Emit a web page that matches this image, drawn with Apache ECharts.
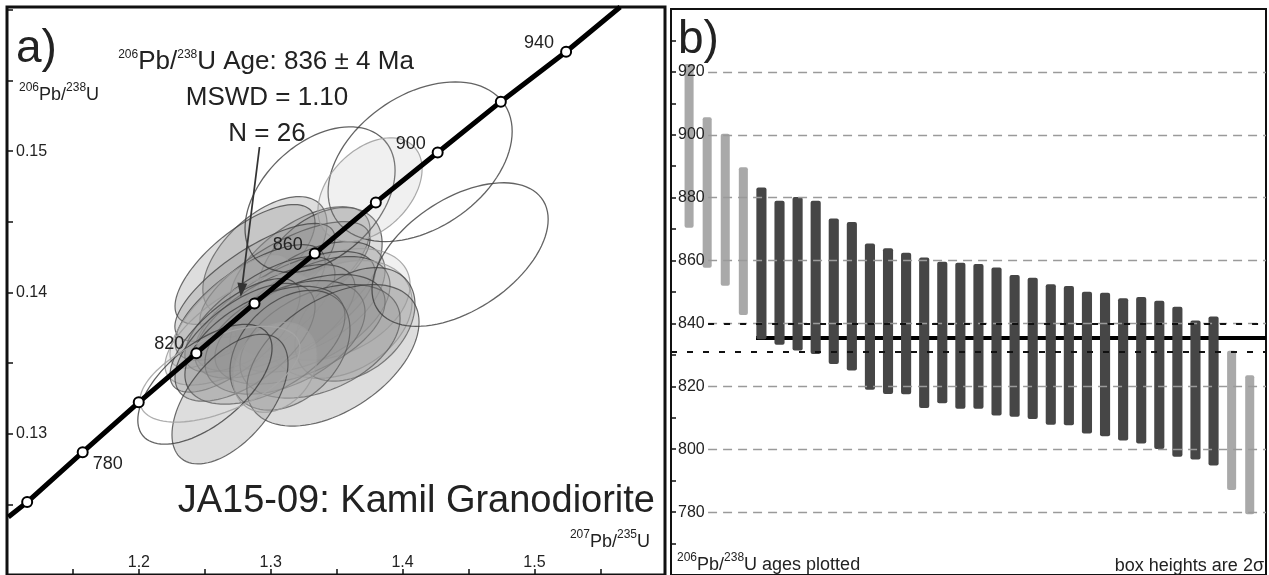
<!DOCTYPE html>
<html>
<head>
<meta charset="utf-8">
<script src="https://cdn.jsdelivr.net/npm/echarts@6/dist/echarts.min.js"></script>
<style>
html, body { margin: 0; padding: 0; background: #fff; }
#chart { width: 1269px; height: 575px; }
</style>
</head>
<body>
<div id="chart"></div>
<script>
// a) concordia reference points, ages in Ma
var concAges = [760, 780, 800, 820, 840, 860, 880, 900, 920, 940];
var conc207 = [1.1153, 1.1574, 1.1999, 1.2436, 1.2877, 1.3334, 1.3797, 1.4266, 1.4745, 1.5240];
var conc206 = [0.12516, 0.12869, 0.13222, 0.13570, 0.13922, 0.14275, 0.14637, 0.14990, 0.15350, 0.15703];
var concLabelAges = [780, 820, 860, 900, 940];
// where the concordia leaves the frame
var concEnd207 = [1.101, 1.565];
var concEnd206 = [0.1241, 0.1602];

// a) error ellipses: centre, half width / half height, correlation
var ellX = [1.2956, 1.3222, 1.2805, 1.3374, 1.3108, 1.2880, 1.3298, 1.2843, 1.3488, 1.3108, 1.2691, 1.3298, 1.2918, 1.3526, 1.3032, 1.3639, 1.2767, 1.3222, 1.2729, 1.3108, 1.3374, 1.2805, 1.2956, 1.3146, 1.3472, 1.3032, 1.2691, 1.4133, 1.3374, 1.3753, 1.4436, 1.2501, 1.2615];
var ellY = [0.14254, 0.14198, 0.14198, 0.14177, 0.14092, 0.14071, 0.13951, 0.13929, 0.13915, 0.13866, 0.13866, 0.13845, 0.13845, 0.13809, 0.13795, 0.13774, 0.13739, 0.13739, 0.13696, 0.13682, 0.13654, 0.13647, 0.13626, 0.13591, 0.13555, 0.13470, 0.13245, 0.14925, 0.14657, 0.14727, 0.14268, 0.13350, 0.13421];
var ellSX = [0.0471, 0.0531, 0.0531, 0.0471, 0.0645, 0.0607, 0.0569, 0.0569, 0.0569, 0.0683, 0.0455, 0.0607, 0.0569, 0.0546, 0.0607, 0.0455, 0.0569, 0.0645, 0.0493, 0.0607, 0.0607, 0.0531, 0.0607, 0.0455, 0.0653, 0.0319, 0.0440, 0.0698, 0.0569, 0.0395, 0.0668, 0.0509, 0.0607];
var ellSY = [0.00424, 0.00409, 0.00424, 0.00424, 0.00409, 0.00417, 0.00409, 0.00409, 0.00395, 0.00424, 0.00402, 0.00409, 0.00409, 0.00417, 0.00402, 0.00402, 0.00395, 0.00388, 0.00402, 0.00402, 0.00402, 0.00417, 0.00417, 0.00424, 0.00501, 0.00318, 0.00459, 0.00565, 0.00515, 0.00367, 0.00508, 0.00424, 0.00339];
var ellRho = [0.55, 0.60, 0.70, 0.40, 0.70, 0.75, 0.50, 0.70, 0.35, 0.65, 0.75, 0.50, 0.70, 0.30, 0.60, 0.35, 0.65, 0.50, 0.70, 0.45, 0.40, 0.60, 0.50, 0.35, 0.47, 0.25, 0.55, 0.38, 0.40, 0.40, 0.49, 0.60, 0.55];
var ellKind = ['fill', 'fill', 'fill', 'fill', 'fill', 'fill', 'fill', 'fill', 'faint', 'fill',
               'faint', 'fill', 'fill', 'faint', 'fill', 'fill', 'faint', 'fill', 'fill', 'fill',
               'fill', 'fill', 'fill', 'fill', 'fill', 'faint', 'fill', 'open', 'open', 'faint',
               'open', 'open', 'openFaint'];

// b) 206Pb/238U ages, top and bottom of each 2 sigma box (Ma)
var boxTop = [922.5, 905.6, 900.3, 889.7, 883.2, 879.0, 880.2, 879.0, 873.4, 872.3, 865.4, 863.9, 862.5, 861.0, 859.6, 859.3, 858.9, 857.8, 855.4, 854.5, 852.5, 851.9, 850.1, 849.8, 848.0, 848.4, 847.2, 845.3, 840.9, 842.2, 831.3, 823.5];
var boxBottom = [870.4, 857.7, 852.0, 842.7, 835.0, 833.2, 831.4, 830.3, 827.1, 825.0, 818.9, 817.6, 817.5, 813.1, 814.6, 812.9, 812.9, 810.7, 810.3, 809.6, 807.8, 807.6, 805.0, 804.1, 802.8, 801.8, 800.1, 797.6, 796.7, 794.8, 787.0, 779.3];
var boxUsed = [0, 0, 0, 0, 1, 1, 1, 1, 1, 1, 1, 1, 1, 1, 1, 1, 1, 1, 1, 1, 1, 1, 1, 1, 1, 1, 1, 1, 1, 1, 0, 0];
var ageTicks = [780, 800, 820, 840, 860, 880, 900, 920];
var meanAge = 835.4;
var meanBand = [831.0, 839.9];

var font = '"Liberation Sans", Arial, sans-serif';
var myChart = echarts.init(document.getElementById('chart'));

var ellStyle = {
    fill: { fill: 'rgba(150,150,150,0.32)', stroke: 'rgba(60,60,60,0.75)', lineWidth: 1.2 },
    faint: { fill: 'rgba(185,185,185,0.22)', stroke: 'rgba(155,155,155,0.85)', lineWidth: 1.2 },
    open: { fill: 'none', stroke: 'rgba(60,60,60,0.8)', lineWidth: 1.3 },
    openFaint: { fill: 'none', stroke: 'rgba(165,165,165,0.9)', lineWidth: 1.3 }
};

function ellipseItem(params, api) {
    var cx = api.value(0), cy = api.value(1), sx = api.value(2), sy = api.value(3), r = api.value(4);
    var k = Math.sqrt(1 - r * r);
    var pts = [];
    for (var i = 0; i < 96; i++) {
        var t = i / 96 * Math.PI * 2;
        pts.push(api.coord([cx + sx * Math.cos(t), cy + sy * (r * Math.cos(t) + k * Math.sin(t))]));
    }
    return { type: 'polygon', shape: { points: pts }, style: ellStyle[ellKind[params.dataIndex]] };
}

function boxItem(params, api) {
    var i = api.value(0);
    var top = api.coord([i, api.value(1)]);
    var bot = api.coord([i, api.value(2)]);
    var used = api.value(3) === 1;
    var w = api.size([1, 0])[0] * (used ? 0.56 : 0.5);
    return {
        type: 'rect',
        shape: { x: top[0] - w / 2, y: top[1], width: w, height: bot[1] - top[1], r: 2 },
        style: { fill: used ? '#464646' : '#a9a9a9' }
    };
}

var ellData = ellX.map(function (x, i) { return [x, ellY[i], ellSX[i], ellSY[i], ellRho[i]]; });
var concLine = [[concEnd207[0], concEnd206[0]]];
concAges.forEach(function (a, i) { concLine.push([conc207[i], conc206[i]]); });
concLine.push([concEnd207[1], concEnd206[1]]);
var concPts = concAges.map(function (a, i) {
    var item = { value: [conc207[i], conc206[i]] };
    if (concLabelAges.indexOf(a) >= 0) {
        item.label = { show: true, formatter: String(a), position: 'inside', offset: a === 780 ? [25, 12] : [-27, -9] };
    }
    return item;
});
var boxData = boxTop.map(function (t, i) { return [i + 1, t, boxBottom[i], boxUsed[i]]; });
var firstUsed = boxUsed.indexOf(1) + 1;

// b) reference lines: dashed grid after the labels, mean band in black
var gridStyle = { color: '#9a9a9a', width: 1.3, type: [9, 6] };
var bandStyle = { color: '#111', width: 2, type: [6, 10] };
var refLines = ageTicks.map(function (v) {
    return [{ coord: [2.05, v], lineStyle: gridStyle }, { coord: [32.9, v] }];
});
refLines.push([{ coord: [0, meanBand[0]], lineStyle: bandStyle }, { coord: [32.9, meanBand[0]] }]);
refLines.push([{ coord: [2.05, meanBand[1]], lineStyle: bandStyle }, { coord: [32.9, meanBand[1]] }]);

var sup = { fontSize: 12, fontFamily: font, verticalAlign: 'top', lineHeight: 26, fill: '#222' };
function txt(x, y, text, size, align, rich) {
    return {
        type: 'text', x: x, y: y, z: 100,
        style: {
            text: text, fontSize: size, fontFamily: font, fill: '#222',
            textAlign: align || 'left', textVerticalAlign: 'middle', rich: rich
        }
    };
}

var option = {
    animation: false,
    grid: [
        { left: 7, top: 7, width: 658, height: 570, show: true, borderColor: '#111', borderWidth: 3, backgroundColor: '#fff' },
        { left: 671, top: 9, width: 595, height: 566, show: true, borderColor: '#111', borderWidth: 2, backgroundColor: '#fff' }
    ],
    xAxis: [
        {
            gridIndex: 0, type: 'value', min: 1.1, max: 1.599, interval: 0.1,
            axisLine: { show: false },
            axisTick: { show: true, inside: true, length: 6, lineStyle: { color: '#111', width: 1.5 } },
            minorTick: { show: true, splitNumber: 2, length: 6, lineStyle: { color: '#111', width: 1.5 } },
            axisLabel: {
                inside: true, margin: 4, fontSize: 16, fontFamily: font, color: '#222',
                formatter: function (v) { return (v > 1.15 && v < 1.55) ? v.toFixed(1) : ''; }
            },
            splitLine: { show: false }
        },
        { gridIndex: 1, type: 'value', min: 0, max: 32.9, show: false }
    ],
    yAxis: [
        {
            gridIndex: 0, type: 'value', min: 0.12, max: 0.1602, interval: 0.01,
            axisLine: { show: false },
            axisTick: { show: true, inside: true, length: 6, lineStyle: { color: '#111', width: 1.5 } },
            minorTick: { show: true, splitNumber: 2, length: 6, lineStyle: { color: '#111', width: 1.5 } },
            axisLabel: {
                inside: true, margin: 9, fontSize: 16, fontFamily: font, color: '#222',
                formatter: function (v) { return (v > 0.125 && v < 0.155) ? v.toFixed(2) : ''; }
            },
            splitLine: { show: false }
        },
        {
            gridIndex: 1, type: 'value', min: 760, max: 940, interval: 20, z: 10,
            axisLine: { show: false },
            axisTick: { show: true, inside: true, length: 5, lineStyle: { color: '#111', width: 1.5 } },
            minorTick: { show: true, splitNumber: 2, length: 5, lineStyle: { color: '#111', width: 1.5 } },
            axisLabel: {
                inside: true, margin: 7, fontSize: 16, fontFamily: font, color: '#222',
                formatter: function (v) { return (v > 770 && v < 930) ? String(v) : ''; }
            },
            splitLine: { show: false }
        }
    ],
    series: [
        {
            type: 'custom', xAxisIndex: 0, yAxisIndex: 0, data: ellData,
            encode: { x: 0, y: 1 }, renderItem: ellipseItem, clip: true, z: 2
        },
        {
            type: 'line', xAxisIndex: 0, yAxisIndex: 0, data: concLine, showSymbol: false,
            lineStyle: { color: '#000', width: 5 }, clip: true, z: 3
        },
        {
            type: 'scatter', xAxisIndex: 0, yAxisIndex: 0, data: concPts, symbolSize: 10, z: 4,
            itemStyle: { color: '#fff', borderColor: '#000', borderWidth: 2, opacity: 1 },
            label: { fontSize: 18, fontFamily: font, color: '#222' }
        },
        {
            type: 'line', xAxisIndex: 1, yAxisIndex: 1, showSymbol: false, z: 1,
            data: [[firstUsed - 0.3, meanAge], [32.9, meanAge]],
            lineStyle: { color: '#000', width: 4 },
            markLine: {
                silent: true, symbol: 'none', label: { show: false },
                data: refLines
            }
        },
        {
            type: 'custom', xAxisIndex: 1, yAxisIndex: 1, data: boxData,
            encode: { x: 0, y: [1, 2] }, renderItem: boxItem, z: 2
        }
    ],
    graphic: [
        txt(16, 49, 'a)', 46),
        txt(266, 62, '{s|206}Pb/{s|238}U Age: 836 ± 4 Ma', 26, 'center', { s: sup }),
        txt(267, 98, 'MSWD = 1.10', 26, 'center'),
        txt(267, 134, 'N = 26', 26, 'center'),
        txt(19, 95, '{s|206}Pb/{s|238}U', 18, 'left', { s: sup }),
        txt(650, 542, '{s|207}Pb/{s|235}U', 18, 'right', { s: sup }),
        txt(655, 502, 'JA15-09: Kamil Granodiorite', 38, 'right'),
        txt(678, 40, 'b)', 46),
        txt(677, 565, '{s|206}Pb/{s|238}U ages plotted', 18, 'left', { s: sup }),
        txt(1264, 566, 'box heights are 2σ', 18, 'right'),
        {
            type: 'line', z: 100,
            shape: { x1: 259.5, y1: 147, x2: 242.4, y2: 284 },
            style: { stroke: '#333', lineWidth: 1.8 }
        },
        {
            type: 'polygon', z: 100,
            shape: { points: [[240.7, 297], [247.4, 283.7], [237.4, 282.5]] },
            style: { fill: '#333' }
        }
    ]
};
myChart.setOption(option);
window.onresize = myChart.resize;
</script>
</body>
</html>
